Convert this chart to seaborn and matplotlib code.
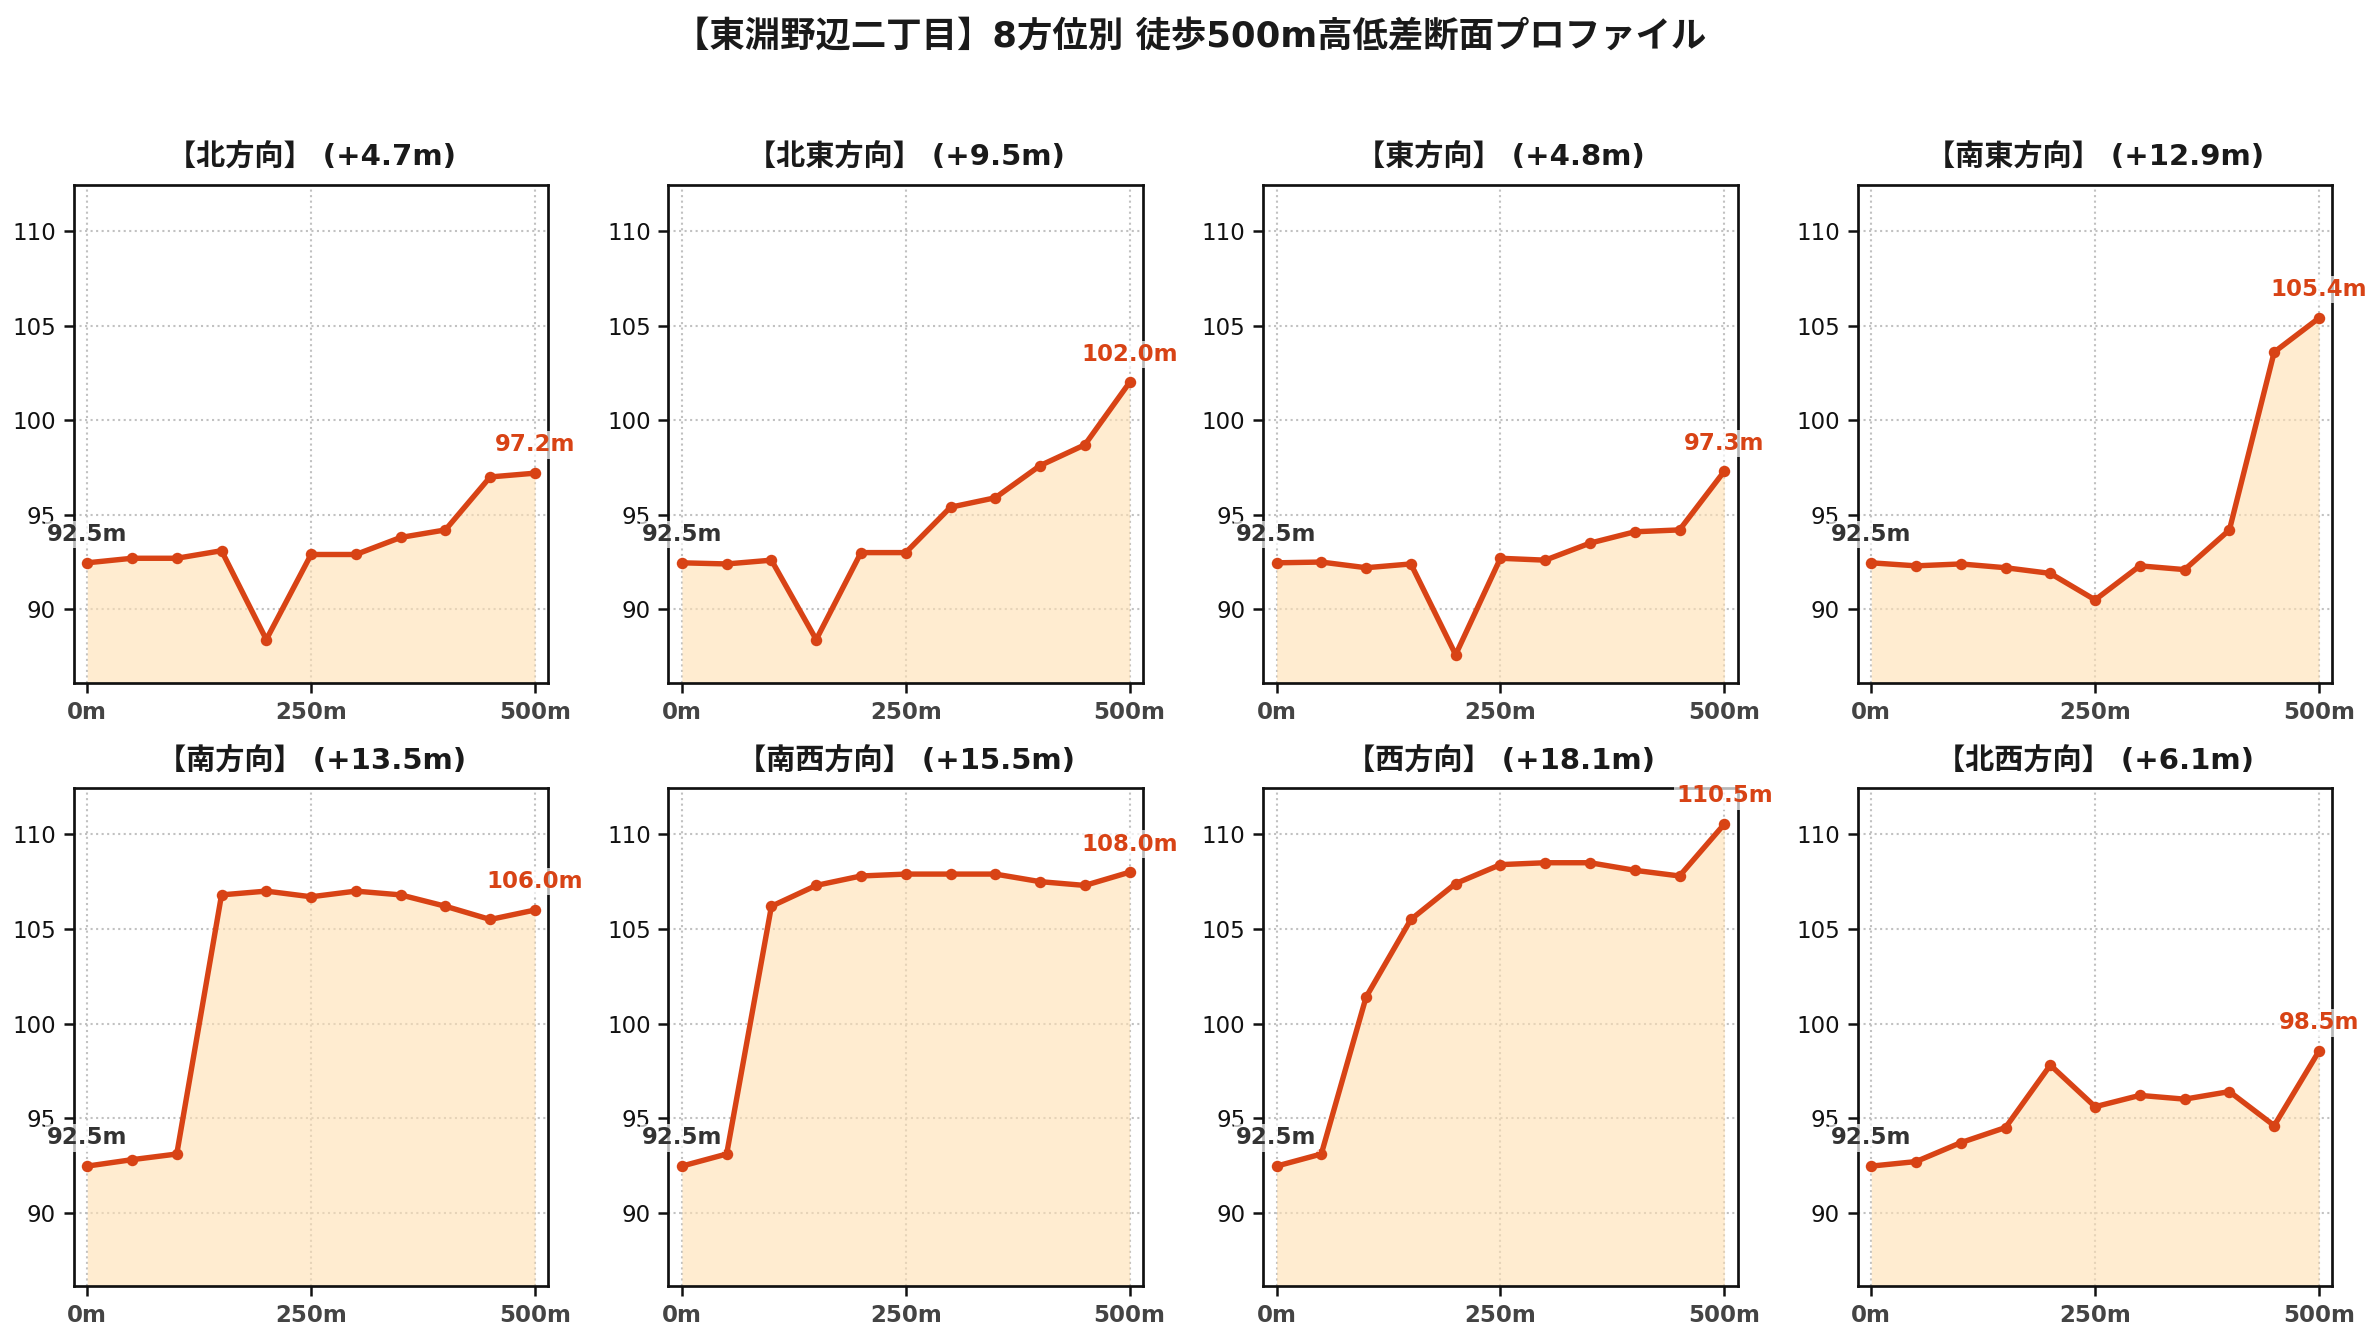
import matplotlib

matplotlib.use("Agg")
import matplotlib.pyplot as plt
import numpy as np
import pandas as pd
import seaborn as sns

# distance along each walking route (m)
distances = [0, 50, 100, 150, 200, 250, 300, 350, 400, 450, 500]

directions = ["北", "北東", "東", "南東", "南", "南西", "西", "北西"]

elev_n = [92.46, 92.7, 92.7, 93.1, 88.4, 92.9, 92.9, 93.8, 94.2, 97.0, 97.2]
elev_ne = [92.46, 92.4, 92.6, 88.4, 93.0, 93.0, 95.4, 95.9, 97.6, 98.7, 102.0]
elev_e = [92.46, 92.5, 92.2, 92.4, 87.6, 92.7, 92.6, 93.5, 94.1, 94.2, 97.3]
elev_se = [92.46, 92.3, 92.4, 92.2, 91.9, 90.5, 92.3, 92.1, 94.2, 103.6, 105.4]
elev_s = [92.46, 92.8, 93.1, 106.8, 107.0, 106.7, 107.0, 106.8, 106.2, 105.5, 106.0]
elev_sw = [92.46, 93.1, 106.2, 107.3, 107.8, 107.9, 107.9, 107.9, 107.5, 107.3, 108.0]
elev_w = [92.46, 93.1, 101.4, 105.5, 107.4, 108.4, 108.5, 108.5, 108.1, 107.8, 110.54]
elev_nw = [92.46, 92.7, 93.7, 94.5, 97.8, 95.6, 96.2, 96.0, 96.4, 94.6, 98.54]

profiles = [elev_n, elev_ne, elev_e, elev_se, elev_s, elev_sw, elev_w, elev_nw]

xtick_vals = [0, 250, 500]
xtick_labels = ["0m", "250m", "500m"]
ytick_vals = [90, 95, 100, 105, 110]

line_color = "#d84315"
fill_color = "#ffe0b2"

sns.set_style("ticks")
plt.rcParams["font.family"] = ["DejaVu Sans", "Noto Sans CJK JP"]

all_vals = np.concatenate([np.array(p) for p in profiles])
y_lo = all_vals.min() - 1.5
y_hi = all_vals.max() + 1.9

fig, axes = plt.subplots(2, 4, figsize=(2380 / 150, 1340 / 150), dpi=150)
fig.subplots_adjust(left=0.031, right=0.980, top=0.862, bottom=0.040,
                    wspace=0.253, hspace=0.211)

for ax, name, elev in zip(axes.flat, directions, profiles):
    df = pd.DataFrame({"distance": distances, "elevation": elev})
    ax.fill_between(df["distance"], df["elevation"], y_lo,
                    color=fill_color, alpha=0.6, linewidth=0, zorder=1)
    sns.lineplot(data=df, x="distance", y="elevation", ax=ax,
                 color=line_color, linewidth=2.6, marker="o",
                 markersize=5.5, markeredgewidth=0, zorder=3)

    gain = elev[-1] - elev[0]
    ax.set_title(f"【{name}方向】 (+{gain:.1f}m)", fontsize=14,
                 fontweight="bold", color="#1a1a1a", pad=9)

    ax.annotate(f"{elev[0]:.1f}m", (distances[0], elev[0]),
                xytext=(0, 8), textcoords="offset points",
                ha="center", va="bottom", fontsize=11, fontweight="bold",
                color="#333333", zorder=5,
                bbox=dict(facecolor="white", edgecolor="none", alpha=0.7, pad=1))
    ax.annotate(f"{elev[-1]:.1f}m", (distances[-1], elev[-1]),
                xytext=(0, 8), textcoords="offset points",
                ha="center", va="bottom", fontsize=11, fontweight="bold",
                color=line_color, zorder=5, annotation_clip=False,
                bbox=dict(facecolor="white", edgecolor="none", alpha=0.7, pad=1))

    ax.set_xlim(-15, 515)
    ax.set_ylim(y_lo, y_hi)
    ax.set_xticks(xtick_vals)
    ax.set_xticklabels(xtick_labels, fontsize=11, fontweight="bold", color="#444444")
    ax.set_yticks(ytick_vals)
    ax.tick_params(axis="y", labelsize=11, colors="#111111")
    ax.tick_params(axis="both", length=5, width=1.2, color="#111111")
    ax.set_xlabel("")
    ax.set_ylabel("")
    ax.grid(True, linestyle=":", color="#bbbbbb", linewidth=1.0, alpha=0.9)
    ax.set_axisbelow(True)
    for spine in ax.spines.values():
        spine.set_color("#111111")
        spine.set_linewidth(1.3)

fig.suptitle("【東淵野辺二丁目】8方位別 徒歩500m高低差断面プロファイル",
             fontsize=17, fontweight="bold", color="#1a1a1a", y=0.973, va="center")

fig.savefig("out.png", dpi=150, facecolor="white")
